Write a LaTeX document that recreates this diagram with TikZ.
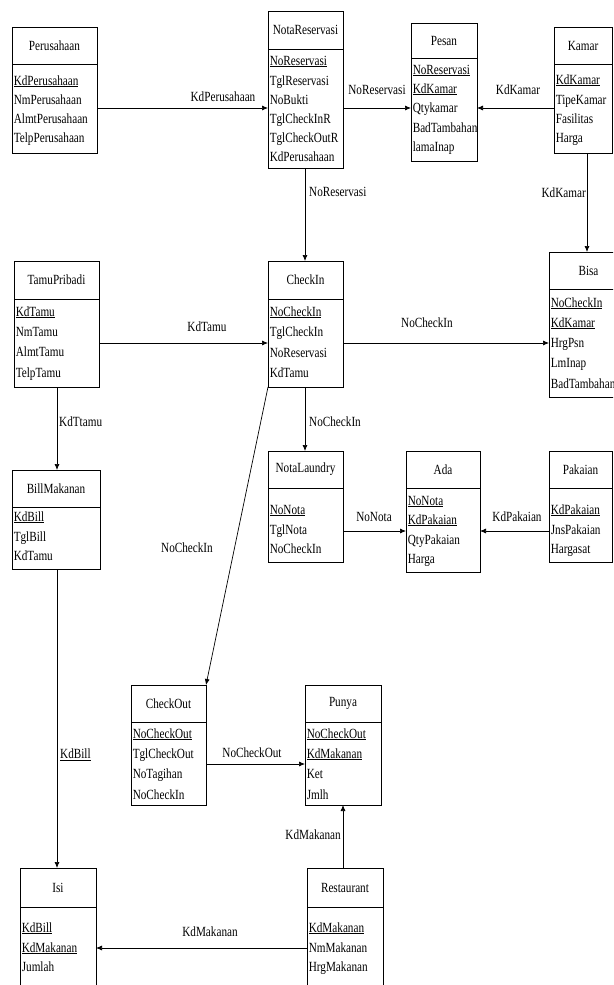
\documentclass[tikz,border=0pt]{standalone}
\usepackage{fontspec}
\setmainfont{Liberation Serif}[FakeStretch=0.8]
\usetikzlibrary{arrows.meta}

% one table of the schema: name, left, top, right, header rule, bottom, title
\newcommand\entity[7]{%
  \node[tablebox, minimum width={#4-#2}, minimum height={#6-#3}] (#1) at (#2,#3) {};
  \draw[headrule] (#1.west |- 0,#5) -- (#1.east |- 0,#5);
  \node[titletext] (#1-title) at ({(#2+#4)/2},{(#3+#5)/2}) {#7};
}
% the field list of a table: left edge, then baseline/field pairs
\newcommand\fields[2]{%
  \foreach \yb/\txt in {#2} {\node[fieldtext] at (#1+1.6,\yb) {\txt};}
}

\begin{document}
\begin{tikzpicture}[x=1pt, y=-1pt,
  font=\fontsize{14}{16}\selectfont,
  tablebox/.style={draw, line width=0.8pt, inner sep=0pt, outer sep=0pt, anchor=north west},
  headrule/.style={line width=1pt},
  titletext/.style={inner sep=0pt},
  fieldtext/.style={inner sep=0pt, anchor=base west},
  link/.style={line width=0.7pt, -{Latex[length=6pt,width=5pt]}},
  lbl/.style={inner sep=0pt}]
\useasboundingbox (0,0) rectangle (613,985);
\clip (0,0) rectangle (613,985);

% ---------- tables ----------
\entity{perusahaan}{12}{27}{97}{64}{153}{Perusahaan}
\fields{12}{85/{\underline{KdPerusahaan}}, 104/NmPerusahaan, 123/AlmtPerusahaan, 142/TelpPerusahaan}

\entity{notares}{268}{11}{343}{49}{168}{NotaReservasi}
\fields{268}{65/{\underline{NoReservasi}}, 85/TglReservasi, 104/NoBukti, 123/TglCheckInR, 142/TglCheckOutR, 161/KdPerusahaan}

\entity{pesan}{411}{23}{477}{58}{161}{Pesan}
\fields{411}{74/{\underline{NoReservasi}}, 93/{\underline{KdKamar}}, 112/Qtykamar, 132/BadTambahan, 151/lamaInap}

\entity{kamar}{554}{27}{612}{64}{153}{Kamar}
\fields{554}{84/{\underline{KdKamar}}, 104/TipeKamar, 123/Fasilitas, 142/Harga}

\entity{bisa}{549}{252}{628}{289}{397}{Bisa}
\fields{549}{307/{\underline{NoCheckIn}}, 327/{\underline{KdKamar}}, 347/HrgPsn, 367/LmInap, 388/BadTambahan}

\entity{tamu}{14}{261}{99}{299}{387}{TamuPribadi}
\fields{14}{316/{\underline{KdTamu}}, 336/NmTamu, 356/AlmtTamu, 377/TelpTamu}

\entity{checkin}{268}{261}{343}{299}{387}{CheckIn}
\fields{268}{316/{\underline{NoCheckIn}}, 336/TglCheckIn, 357/NoReservasi, 377/KdTamu}

\entity{bill}{12}{470}{100}{507}{569}{BillMakanan}
\fields{12}{521/{\underline{KdBill}}, 541/TglBill, 560/KdTamu}

\entity{laundry}{268}{451}{343}{488}{562}{NotaLaundry}
\fields{268}{514/{\underline{NoNota}}, 534/TglNota, 553/NoCheckIn}

\entity{ada}{406}{451}{480}{488}{572}{Ada}
\fields{406}{505/{\underline{NoNota}}, 524/{\underline{KdPakaian}}, 544/QtyPakaian, 563/Harga}

\entity{pakaian}{549}{451}{612}{488}{562}{Pakaian}
\fields{549}{514/{\underline{KdPakaian}}, 534/JnsPakaian, 553/Hargasat}

\entity{checkout}{131}{685}{206}{722}{805}{CheckOut}
\fields{131}{738/{\underline{NoCheckOut}}, 758/TglCheckOut, 778/NoTagihan, 799/NoCheckIn}

\entity{punya}{305}{685}{381}{722}{805}{Punya}
\fields{305}{738/{\underline{NoCheckOut}}, 758/{\underline{KdMakanan}}, 778/Ket, 799/Jmlh}

\entity{isi}{20}{868}{96}{907}{995}{Isi}
\fields{20}{932/{\underline{KdBill}}, 952/{\underline{KdMakanan}}, 971/Jumlah}

\entity{resto}{307}{868}{383}{907}{995}{Restaurant}
\fields{307}{932/{\underline{KdMakanan}}, 952/NmMakanan, 971/HrgMakanan}

% ---------- relations ----------
\draw[link] (perusahaan.east |- 0,108) -- (notares.west |- 0,108);
\node[lbl] at (223,97) {KdPerusahaan};

\draw[link] (notares.east |- 0,108) -- (pesan.west |- 0,108);
\node[lbl] at (377,90) {NoReservasi};

\draw[link] (kamar.west |- 0,108) -- (pesan.east |- 0,108);
\node[lbl] at (518,90) {KdKamar};

\draw[link] (kamar.south -| 587,0) -- (bisa.north -| 587,0);
\node[lbl, anchor=east] at (586,193) {KdKamar};

\draw[link] (notares.south -| 305,0) -- (checkin.north -| 305,0);
\node[lbl, anchor=west] at (309,192) {NoReservasi};

\draw[link] (tamu.east |- 0,343) -- (checkin.west |- 0,343);
\node[lbl] at (207,327) {KdTamu};

\draw[link] (checkin.east |- 0,343) -- (bisa.west |- 0,343);
\node[lbl] at (427,323) {NoCheckIn};

\draw[link] (tamu.south -| 57,0) -- (bill.north -| 57,0);
\node[lbl, anchor=west] at (59,422) {KdTtamu};

\draw[link] (checkin.south -| 305,0) -- (laundry.north -| 305,0);
\node[lbl, anchor=west] at (309,422) {NoCheckIn};

\draw[link] (laundry.east |- 0,531) -- (ada.west |- 0,531);
\node[lbl] at (374,517) {NoNota};

\draw[link] (pakaian.west |- 0,531) -- (ada.east |- 0,531);
\node[lbl] at (517,517) {KdPakaian};

\draw[link] (checkin.south west) -- (checkout.north east);
\node[lbl] at (187,548) {NoCheckIn};

\draw[link] (bill.south -| 57,0) -- (isi.north -| 57,0);
\node[lbl, anchor=west] at (60,755) {\underline{KdBill}};

\draw[link] (checkout.east |- 0,764) -- (punya.west |- 0,764);
\node[lbl] at (252,753) {NoCheckOut};

\draw[link] (resto.north -| 343,0) -- (punya.south -| 343,0);
\node[lbl, anchor=east] at (341,835) {KdMakanan};

\draw[link] (resto.west |- 0,948) -- (isi.east |- 0,948);
\node[lbl] at (210,932) {KdMakanan};
\end{tikzpicture}
\end{document}
